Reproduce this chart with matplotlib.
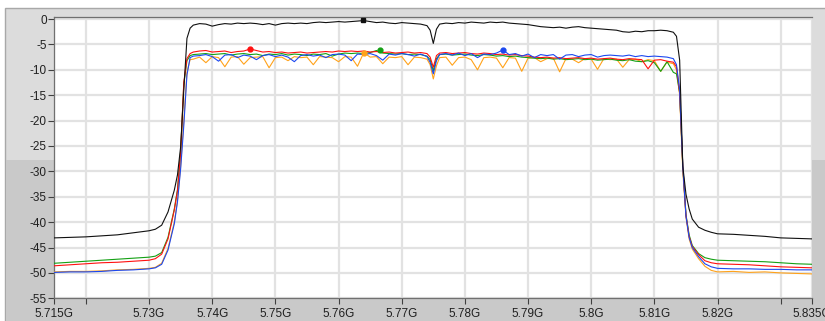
import matplotlib
matplotlib.use('Agg')
import matplotlib.pyplot as plt
from matplotlib.patches import Rectangle

# frequency grid (GHz): left stopband + rising edge, passband, falling edge + right stopband
freq_left = [5.715, 5.7175, 5.72, 5.7225, 5.725, 5.7275, 5.73, 5.731, 5.732, 5.733,
             5.734, 5.7345, 5.735, 5.7355, 5.736, 5.7365, 5.737]
freq_pass = [5.738, 5.739, 5.740, 5.741, 5.742, 5.743, 5.744, 5.745, 5.746, 5.747,
             5.748, 5.749, 5.750, 5.751, 5.752, 5.753, 5.754, 5.755, 5.756, 5.757,
             5.758, 5.759, 5.760, 5.761, 5.762, 5.763, 5.764, 5.765, 5.766, 5.767,
             5.768, 5.769, 5.770, 5.771, 5.772, 5.773, 5.774,
             5.7745, 5.775, 5.7755,
             5.776, 5.777, 5.778, 5.779, 5.780, 5.781, 5.782, 5.783, 5.784, 5.785,
             5.786, 5.787, 5.788, 5.789, 5.790, 5.791, 5.792, 5.793, 5.794, 5.795,
             5.796, 5.797, 5.798, 5.799, 5.800, 5.801, 5.802, 5.803, 5.804, 5.805,
             5.806, 5.807, 5.808, 5.809, 5.810, 5.811]
freq_right = [5.812, 5.813, 5.8135, 5.814, 5.8145, 5.815, 5.8155, 5.816, 5.817, 5.818,
              5.819, 5.82, 5.8225, 5.825, 5.8275, 5.83, 5.8325, 5.835]

black_left = [-43.1, -43.0, -42.9, -42.7, -42.5, -42.1, -41.7, -41.4, -40.6, -38.0,
              -33.7, -30.7, -25.2, -14.0, -3.8, -1.8, -1.2]
black_pass = [-0.9, -1.0, -1.4, -1.1, -0.9, -1.0, -0.8, -0.9, -0.8, -0.9,
              -1.1, -0.9, -1.2, -0.9, -0.8, -0.9, -0.8, -0.9, -0.7, -0.6,
              -0.7, -0.6, -0.5, -0.6, -0.5, -0.4, -0.3, -0.5, -0.7, -0.6,
              -0.8, -0.9, -0.7, -0.8, -0.9, -1.0, -1.3,
              -2.2, -4.8, -2.0,
              -1.0, -0.8, -0.9, -0.7, -0.8, -0.6, -0.7, -0.8, -0.6, -0.7,
              -0.6, -0.8, -0.9, -1.0, -1.1, -1.3, -1.5, -1.6, -1.7, -1.6,
              -1.8, -1.6, -1.5, -1.7, -1.8, -1.9, -2.0, -2.1, -2.2, -2.5,
              -2.6, -2.4, -2.5, -2.3, -2.3, -2.2]
black_right = [-2.3, -2.6, -3.4, -8.1, -29.0, -34.5, -37.4, -39.4, -41.0, -41.6,
               -42.0, -42.3, -42.4, -42.6, -42.8, -43.1, -43.2, -43.3]

red_left = [-48.6, -48.4, -48.2, -48.0, -47.9, -47.7, -47.5, -47.2, -46.3, -43.3,
            -37.6, -33.8, -26.3, -12.5, -7.8, -6.8, -6.5]
red_pass = [-6.3, -6.2, -6.5, -6.4, -6.3, -6.6, -6.4, -6.3, -5.9, -6.2,
            -6.5, -6.4, -6.6, -6.5, -6.7, -6.6, -6.5, -6.7, -6.6, -6.5,
            -6.4, -6.5, -6.3, -6.4, -6.3, -6.4, -6.3, -6.5, -6.4, -6.6,
            -6.5, -6.7, -6.6, -6.5, -6.7, -6.6, -6.8,
            -7.5, -9.5, -7.2,
            -6.7, -6.6, -6.8, -6.7, -6.6, -6.8, -6.9, -6.7, -6.8, -7.0,
            -6.9, -7.1, -7.0, -7.2, -7.3, -7.5, -7.6, -7.5, -7.7, -7.6,
            -7.8, -7.7, -7.6, -7.8, -7.7, -7.9, -7.8, -7.7, -7.9, -8.0,
            -7.8, -7.9, -8.0, -9.8, -8.1, -8.0]
red_right = [-8.3, -8.5, -9.4, -14.5, -29.0, -38.7, -42.8, -44.8, -46.4, -47.6,
             -48.0, -48.2, -48.3, -48.4, -48.6, -48.8, -48.9, -49.0]

green_left = [-48.1, -47.9, -47.7, -47.5, -47.3, -47.1, -46.9, -46.7, -46.0, -43.0,
              -37.4, -33.6, -26.0, -12.8, -8.2, -7.2, -7.0]
green_pass = [-6.9, -6.8, -7.0, -6.9, -6.8, -7.1, -6.9, -6.8, -7.0, -6.9,
              -7.2, -6.9, -7.0, -6.8, -7.1, -6.9, -7.0, -7.2, -6.9, -7.0,
              -6.8, -7.3, -6.9, -6.7, -6.8, -6.7, -6.8, -6.6, -6.2, -6.7,
              -6.8, -6.9, -6.8, -7.0, -6.9, -7.0, -7.3,
              -8.0, -10.2, -7.8,
              -7.0, -6.9, -7.1, -7.0, -6.9, -7.1, -7.2, -7.0, -7.1, -7.3,
              -7.2, -7.4, -7.3, -7.5, -7.6, -7.7, -7.8, -7.7, -7.9, -7.8,
              -8.0, -7.9, -7.8, -8.0, -7.9, -8.1, -8.0, -7.9, -8.1, -8.2,
              -8.0, -8.3, -8.4, -8.2, -8.6, -10.3]
green_right = [-8.4, -10.5, -10.8, -14.5, -29.0, -38.5, -42.5, -44.6, -46.2, -47.0,
               -47.3, -47.5, -47.6, -47.7, -47.8, -48.0, -48.2, -48.3]

blue_left = [-49.9, -49.8, -49.8, -49.7, -49.5, -49.4, -49.2, -49.0, -48.3, -45.5,
             -40.3, -36.0, -29.5, -21.0, -11.0, -7.6, -7.3]
blue_pass = [-7.2, -7.0, -7.4, -8.3, -7.1, -7.0, -7.6, -7.1, -7.3, -8.0,
             -7.2, -7.0, -7.4, -7.1, -7.5, -8.4, -7.2, -7.0, -7.3, -7.1,
             -7.6, -7.0, -6.9, -7.1, -8.2, -6.9, -7.0, -6.8, -7.2, -8.1,
             -6.9, -7.1, -6.8, -7.0, -7.3, -6.9, -7.4,
             -8.5, -10.8, -8.2,
             -7.0, -6.8, -7.1, -6.7, -7.2, -6.8, -7.6, -6.9, -7.0, -6.7,
             -6.1, -7.0, -6.8, -7.3, -6.9, -7.6, -7.0, -7.2, -7.0, -7.9,
             -7.1, -7.0, -7.4, -7.1, -7.0, -7.5, -7.2, -7.1, -7.2, -7.3,
             -7.1, -7.4, -7.2, -7.4, -7.3, -7.4]
blue_right = [-7.5, -7.8, -9.0, -14.0, -29.0, -38.8, -43.0, -45.0, -46.8, -48.2,
              -48.8, -49.1, -49.2, -49.2, -49.3, -49.3, -49.4, -49.4]

orange_left = [-49.8, -49.7, -49.7, -49.6, -49.4, -49.3, -49.1, -48.9, -48.1, -45.2,
               -40.0, -35.7, -29.0, -20.0, -10.5, -8.0, -7.9]
orange_pass = [-7.5, -8.6, -7.4, -7.6, -9.4, -7.5, -7.4, -8.9, -7.6, -7.5,
               -7.4, -9.6, -7.6, -7.5, -8.2, -7.4, -7.6, -7.5, -9.0, -7.4,
               -7.5, -7.6, -8.4, -7.4, -7.5, -9.3, -6.6, -7.5, -7.4, -8.8,
               -7.5, -7.6, -7.4, -9.0, -7.5, -7.6, -7.9,
               -9.0, -11.8, -9.2,
               -7.6, -7.5, -9.1, -7.6, -7.5, -8.0, -10.0, -7.6, -7.5, -7.7,
               -9.6, -7.6, -7.7, -10.3, -7.7, -7.6, -8.4, -7.8, -7.7, -10.4,
               -7.8, -7.9, -8.6, -7.8, -7.9, -9.9, -7.8, -8.0, -7.9, -9.5,
               -8.0, -7.9, -8.4, -8.0, -8.2, -10.3]
orange_right = [-8.5, -8.8, -10.0, -15.0, -30.0, -39.0, -43.3, -45.3, -47.2, -48.7,
                -49.5, -49.8, -49.7, -49.9, -49.8, -50.0, -50.1, -50.2]

# peak markers (freq, level)
markers = {
    'black': (5.7638, -0.2),
    'red': (5.746, -5.9),
    'orange': (5.764, -6.6),
    'green': (5.7665, -6.1),
    'blue': (5.786, -6.1),
}

xticks = [5.715, 5.72, 5.73, 5.74, 5.75, 5.76, 5.77, 5.78, 5.79, 5.80, 5.81, 5.82, 5.83, 5.835]
xlabels = ['5.715G', '', '5.73G', '5.74G', '5.75G', '5.76G', '5.77G', '5.78G', '5.79G',
           '5.8G', '5.81G', '5.82G', '', '5.835G']
yticks = [0, -5, -10, -15, -20, -25, -30, -35, -40, -45, -50, -55]

freq = freq_left + freq_pass + freq_right
series = [
    ('orange', '#ffa21a', orange_left + orange_pass + orange_right),
    ('green', '#14a014', green_left + green_pass + green_right),
    ('red', '#ff1010', red_left + red_pass + red_right),
    ('blue', '#1c48f0', blue_left + blue_pass + blue_right),
    ('black', '#101010', black_left + black_pass + black_right),
]

W, H = 825, 321
plt.rcParams['font.family'] = ['Liberation Sans', 'DejaVu Sans']
fig = plt.figure(figsize=(W / 100, H / 100), dpi=100, facecolor='white')

# gray panel behind the graph
fig.add_artist(Rectangle((5 / W, 0), 1, 1 - 8 / H, transform=fig.transFigure,
                         facecolor='#dcdcdc', edgecolor='#a8a8a8', lw=1, zorder=0))
fig.add_artist(Rectangle((5.5 / W, 0), 1, 1 - 160 / H, transform=fig.transFigure,
                         facecolor='#c9c9c9', edgecolor='none', zorder=0))

ax = fig.add_axes([54.3 / W, 1 - 298.3 / H, 758 / W, 281.3 / H])
ax.set_facecolor('white')

for name, col, vals in series:
    ax.plot(freq, vals, color=col, lw=0.8, zorder=3)
    mx, my = markers[name]
    ax.plot([mx], [my], marker='s' if name == 'black' else 'o', ms=3.5,
            color=col, zorder=4)

ax.set_xlim(5.715, 5.835)
ax.set_ylim(-55, 0.4)
ax.set_xticks(xticks)
ax.set_xticklabels(xlabels)
ax.set_yticks(yticks)
ax.set_yticklabels([str(v) for v in yticks])
ax.grid(True, color='#e2e2e2', lw=1.6, zorder=1)
ax.set_axisbelow(True)

ax.tick_params(axis='both', direction='out', length=4, width=0.8, color='#404040',
               labelsize=8.5, labelcolor='#202020')
ax.tick_params(axis='x', pad=3)
ax.tick_params(axis='y', pad=1.5)
for side in ['left', 'bottom', 'top']:
    ax.spines[side].set_color('#707070')
    ax.spines[side].set_linewidth(0.9)
ax.spines['right'].set_visible(False)

fig.savefig('out.png', dpi=100, facecolor=fig.get_facecolor())
